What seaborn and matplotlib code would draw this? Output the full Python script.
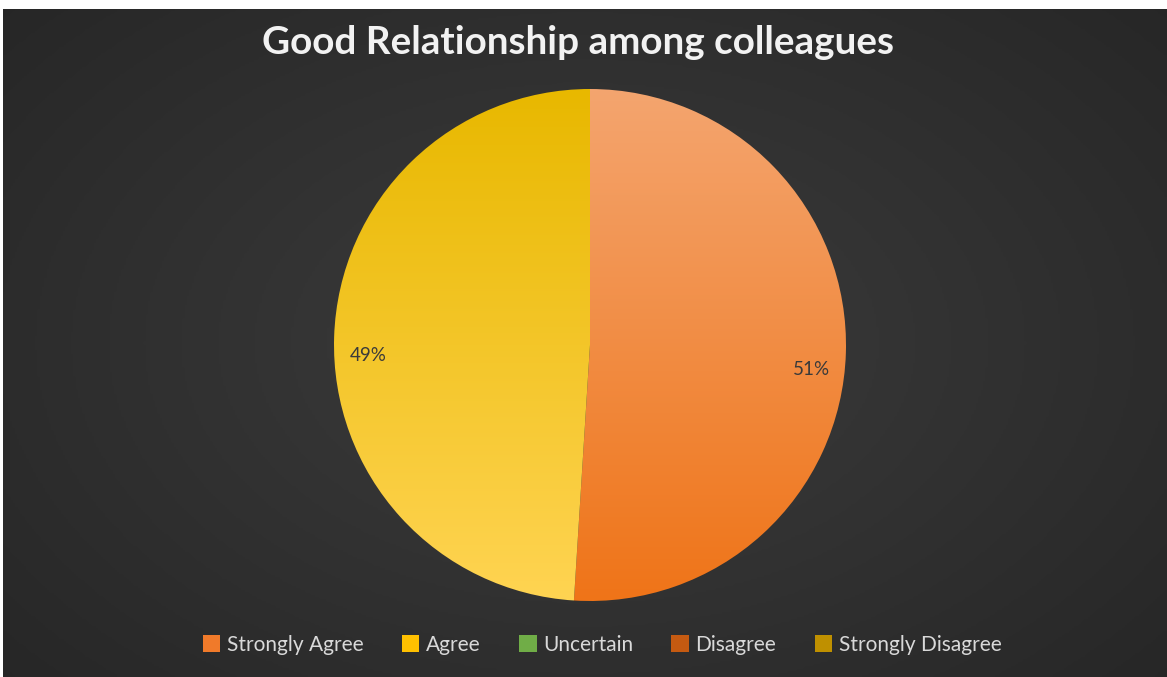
import numpy as np
import matplotlib
matplotlib.use("Agg")
import matplotlib.pyplot as plt
from matplotlib.colors import LinearSegmentedColormap
from matplotlib.patches import Patch
import seaborn as sns

# Survey responses: "Good Relationship among colleagues"
categories = ["Strongly Agree", "Agree", "Uncertain", "Disagree", "Strongly Disagree"]
shares = [51, 49, 0, 0, 0]
legend_colors = ["#F07A2A", "#FFC000", "#70AD47", "#C55A11", "#BF9000"]
# top / bottom shades used for the gradient fill of each slice
slice_top = ["#F4A56F", "#E8B800", "#70AD47", "#C55A11", "#BF9000"]
slice_bottom = ["#EF7418", "#FFD452", "#70AD47", "#C55A11", "#BF9000"]
title = "Good Relationship among colleagues"

sns.set_theme(style="dark")
plt.rcParams["font.family"] = ["Lato", "DejaVu Sans"]

W, H = 1167, 677
fig = plt.figure(figsize=(W / 100, H / 100), dpi=100)
fig.patch.set_facecolor("white")

# dark chart area with a soft radial glow
bg = fig.add_axes([3 / W, 0, (W - 3) / W, (H - 9) / H])
yy, xx = np.mgrid[-1:1:300j, -1:1:500j]
r = np.sqrt((xx * 0.9) ** 2 + (yy * 0.8) ** 2)
glow = LinearSegmentedColormap.from_list("glow", ["#3C3C3C", "#262626"])
bg.imshow(r, cmap=glow, extent=[0, 1, 0, 1], aspect="auto", vmin=0, vmax=1.25)
bg.set_axis_off()

# pie axes
cx, cy, rad = 590, 345, 256
ax = fig.add_axes([(cx - rad) / W, (H - cy - rad) / H, 2 * rad / W, 2 * rad / H])
ax.set_facecolor("none")
wedges, _ = ax.pie(shares, colors=legend_colors, startangle=90, counterclock=False,
                   radius=1.0, wedgeprops=dict(linewidth=0))
ax.set_xlim(-1, 1)
ax.set_ylim(-1, 1)
ax.set_axis_off()

grad = np.linspace(0, 1, 256).reshape(-1, 1)
for w, c0, c1, v in zip(wedges, slice_top, slice_bottom, shares):
    if v == 0:
        continue
    cm = LinearSegmentedColormap.from_list("g", [c0, c1])
    im = ax.imshow(grad, cmap=cm, extent=[-1, 1, -1, 1], aspect="auto", zorder=2)
    im.set_clip_path(w)
    w.set_alpha(0)

# percentage labels, placed near the rim of each slice
total = sum(shares)
start = 90.0
for v in shares:
    if v == 0:
        continue
    ang = np.deg2rad(start - 360 * v / total / 2)
    start -= 360 * v / total
    x, y = 0.865 * np.cos(ang), 0.865 * np.sin(ang) - 0.07
    ax.text(x, y, f"{round(100 * v / total)}%", ha="center", va="center",
            fontsize=13.5, color="#3A3A3A", zorder=3)

fig.text(578 / W, 1 - 42 / H, title, ha="center", va="center", fontsize=27.8,
         fontweight="bold", color="#F2F2F2")

handles = [Patch(facecolor=c, edgecolor="none") for c in legend_colors]
leg = fig.legend(handles, categories, loc="center", bbox_to_anchor=(602 / W, 1 - 645 / H),
                 ncol=5, frameon=False, fontsize=15, handlelength=0.85, handleheight=0.85,
                 handletextpad=0.3, columnspacing=1.85)
for t in leg.get_texts():
    t.set_color("#D9D9D9")

fig.savefig("out.png", dpi=100, facecolor=fig.get_facecolor())
